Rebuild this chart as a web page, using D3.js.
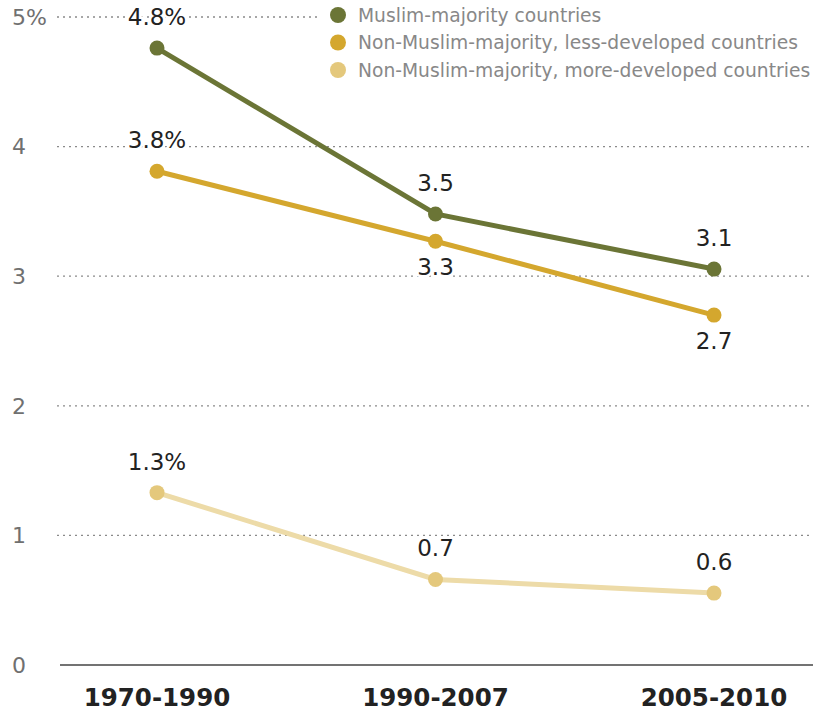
<!DOCTYPE html>
<html><head><meta charset="utf-8">
<script src="https://cdn.jsdelivr.net/npm/d3@7"></script>
<style>body{margin:0;background:#fff;}svg{display:block;}</style>
</head><body>
<svg id="chart" width="813" height="713"></svg>
<script>
const categories = ["1970-1990", "1990-2007", "2005-2010"];
const seriesNames = ["Muslim-majority countries", "Non-Muslim-majority, less-developed countries", "Non-Muslim-majority, more-developed countries"];
const muslim = [4.76, 3.48, 3.055];
const lessDeveloped = [3.81, 3.27, 2.70];
const moreDeveloped = [1.33, 0.66, 0.555];
const muslimLabels = ["4.8%", "3.5", "3.1"];
const lessLabels = ["3.8%", "3.3", "2.7"];
const moreLabels = ["1.3%", "0.7", "0.6"];
const muslimLabelPos = ["above", "above", "above"];
const lessLabelPos = ["above", "below", "below"];
const moreLabelPos = ["above", "above", "above"];
const yTicks = [0, 1, 2, 3, 4, 5];
const yTickLabels = ["0", "1", "2", "3", "4", "5%"];
const colors = ["#6b7536", "#d4a72e", "#eddba8"];
const dotColors = ["#6b7536", "#d4a72e", "#e4c87c"];

const series = [
  {name: seriesNames[0], values: muslim, labels: muslimLabels, pos: muslimLabelPos, color: colors[0], dot: dotColors[0]},
  {name: seriesNames[1], values: lessDeveloped, labels: lessLabels, pos: lessLabelPos, color: colors[1], dot: dotColors[1]},
  {name: seriesNames[2], values: moreDeveloped, labels: moreLabels, pos: moreLabelPos, color: colors[2], dot: dotColors[2]}
];

const svg = d3.select("#chart");
const font = "'DejaVu Sans', Verdana, sans-serif";
const x = d3.scalePoint().domain(categories).range([157, 714]);
const y = d3.scaleLinear().domain([0, 5]).range([665, 17]);

// gridlines
svg.append("g").selectAll("line").data(yTicks.filter(d => d > 0)).join("line")
  .attr("x1", 57).attr("x2", 813)
  .attr("y1", d => y(d)).attr("y2", d => y(d))
  .attr("stroke", "#8a8a8a").attr("stroke-width", 1.3).attr("stroke-dasharray", "2,4");

// baseline
svg.append("line").attr("x1", 60).attr("x2", 813).attr("y1", y(0)).attr("y2", y(0))
  .attr("stroke", "#444").attr("stroke-width", 1.5);

// y tick labels
svg.append("g").selectAll("text").data(yTicks).join("text")
  .attr("x", 12).attr("y", d => y(d)).attr("dy", "0.35em")
  .attr("font-family", font).attr("font-size", 22).attr("fill", "#707070")
  .text((d, i) => yTickLabels[i]);

// x labels
svg.append("g").selectAll("text").data(categories).join("text")
  .attr("x", d => x(d)).attr("y", 706).attr("text-anchor", "middle")
  .attr("font-family", font).attr("font-weight", "bold").attr("font-size", 24.5)
  .attr("fill", "#222").text(d => d);

// lines and dots
const line = d3.line().x((d, i) => x(categories[i])).y(d => y(d));
series.forEach(s => {
  svg.append("path").attr("d", line(s.values)).attr("fill", "none")
    .attr("stroke", s.color).attr("stroke-width", 5);
  svg.append("g").selectAll("circle").data(s.values).join("circle")
    .attr("cx", (d, i) => x(categories[i])).attr("cy", d => y(d)).attr("r", 7.5)
    .attr("fill", s.dot);
});

// data labels
series.forEach(s => {
  svg.append("g").selectAll("text").data(s.values).join("text")
    .attr("x", (d, i) => x(categories[i]))
    .attr("y", (d, i) => s.pos[i] === "above" ? y(d) - 23 : y(d) + 34)
    .attr("text-anchor", "middle")
    .attr("font-family", font).attr("font-size", 23).attr("fill", "#222")
    .attr("stroke", "#fff").attr("stroke-width", 5).attr("paint-order", "stroke")
    .text((d, i) => s.labels[i]);
});

// legend
const lg = svg.append("g").attr("transform", "translate(320,0)");
lg.append("rect").attr("x", 0).attr("y", 2).attr("width", 493).attr("height", 82).attr("fill", "#fff");
series.forEach((s, i) => {
  const yy = 15 + i * 27.5;
  lg.append("circle").attr("cx", 18).attr("cy", yy).attr("r", 8).attr("fill", s.dot);
  lg.append("text").attr("x", 38).attr("y", yy).attr("dy", "0.35em")
    .attr("font-family", font).attr("font-size", 18.7).attr("fill", "#888").text(s.name);
});
</script>
</body></html>
